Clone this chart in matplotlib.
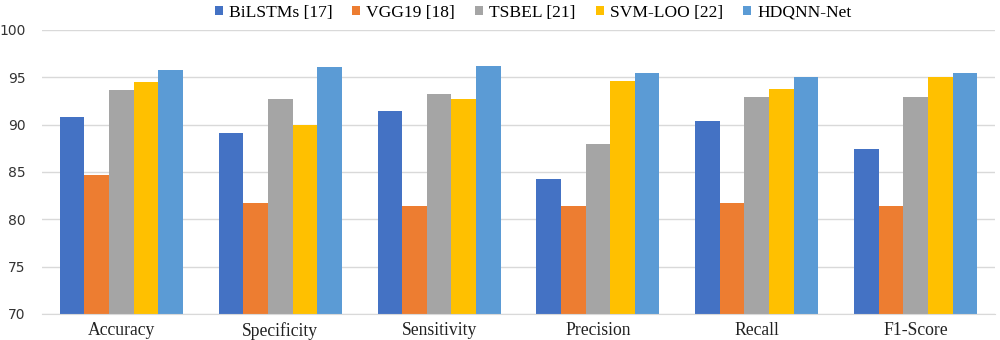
import matplotlib
matplotlib.use("Agg")
import matplotlib.pyplot as plt
import numpy as np

categories = ["Accuracy", "Specificity", "Sensitivity", "Precision", "Recall", "F1-Score"]
series_names = ["BiLSTMs [17]", "VGG19 [18]", "TSBEL [21]", "SVM-LOO [22]", "HDQNN-Net"]
bilstms = [90.8, 89.1, 91.4, 84.3, 90.4, 87.4]
vgg19 = [84.7, 81.7, 81.4, 81.4, 81.7, 81.4]
tsbel = [93.7, 92.7, 93.2, 87.9, 92.9, 92.9]
svm_loo = [94.5, 90.0, 92.7, 94.6, 93.8, 95.0]
hdqnn = [95.8, 96.1, 96.2, 95.5, 95.0, 95.4]
yticks = [70, 75, 80, 85, 90, 95, 100]

colors = ["#4472C4", "#ED7D31", "#A5A5A5", "#FFC000", "#5B9BD5"]
all_series = [bilstms, vgg19, tsbel, svm_loo, hdqnn]

fig = plt.figure(figsize=(10, 3.4), dpi=100)
ax = fig.add_axes([0.042, 0.0765, 0.953, 0.8355])

x = np.arange(len(categories))
bw = 0.155
for i, (name, vals) in enumerate(zip(series_names, all_series)):
    ax.bar(x + (i - 2) * bw, vals, width=bw, color=colors[i], label=name, zorder=3)

ax.set_ylim(70, 100)
ax.set_xlim(-0.5, len(categories) - 0.5)
ax.set_yticks(yticks)
ax.set_yticklabels([str(t) for t in yticks], fontsize=10, family="DejaVu Sans", color="#333333")
ax.set_xticks(x)
ax.set_xticklabels(categories, fontsize=12.7, family="Liberation Serif", color="#222222")
ax.tick_params(axis="y", length=0, pad=12)
ax.tick_params(axis="x", length=0, pad=6)
ax.grid(axis="y", color="#D9D9D9", linewidth=1, zorder=0)
for s in ["top", "right", "left"]:
    ax.spines[s].set_visible(False)
ax.spines["bottom"].set_color("#D9D9D9")
ax.spines["bottom"].set_zorder(4)

leg = fig.legend(loc="center", bbox_to_anchor=(0.533, 0.962), ncol=5, frameon=False,
                 prop={"family": "Liberation Serif", "size": 12.6},
                 handlelength=0.45, handleheight=0.45, handletextpad=0.35, columnspacing=1.15)

fig.savefig("out.png", dpi=100)
